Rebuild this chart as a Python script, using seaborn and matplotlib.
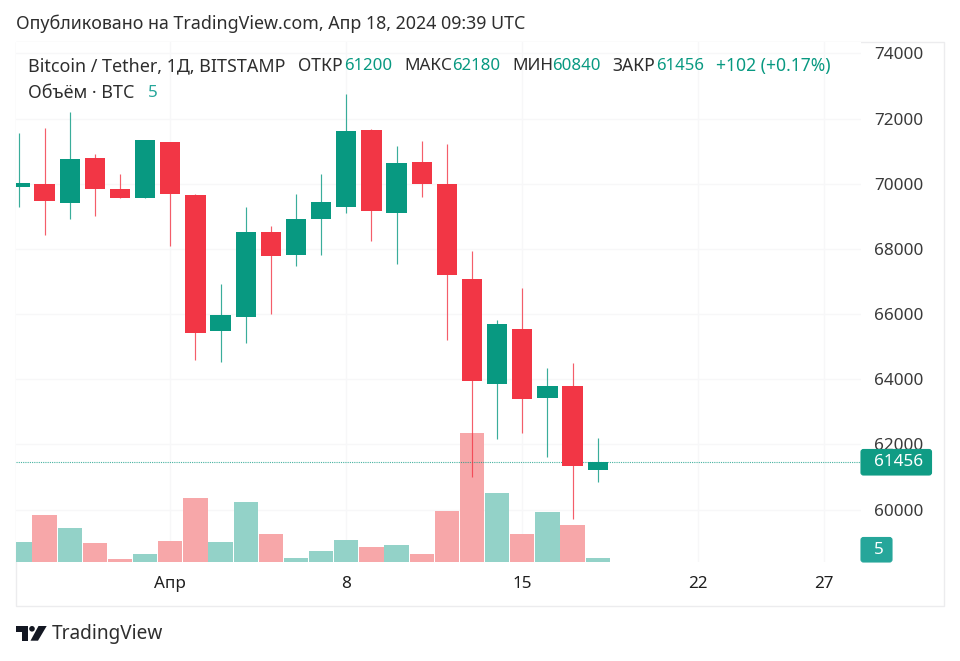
"""BTC/USDT daily candles with volume, TradingView snapshot look."""
import numpy as np
import pandas as pd

import matplotlib
matplotlib.use("Agg")
import matplotlib.pyplot as plt
from matplotlib.patches import FancyBboxPatch, Polygon, Circle, Rectangle
from matplotlib.transforms import Affine2D
import seaborn as sns

# day number, 0 = 1 Apr 2024
days = [-6, -5, -4, -3, -2, -1, 0, 1, 2, 3, 4, 5, 6, 7, 8, 9, 10, 11, 12, 13, 14, 15, 16, 17]
opens = [69897, 69990, 69407, 70797, 69846, 69560, 71270, 69652, 65488, 65908, 68507, 67802,
         68925, 69275, 71647, 69109, 70665, 69990, 67065, 63843, 65531, 63413, 63790, 61200]
highs = [71555, 71718, 72200, 70920, 70297, 71340, 71270, 69674, 66912, 69293, 68701, 69674,
         70297, 72743, 71680, 71156, 71300, 71217, 67933, 65816, 66798, 64334, 64506, 62180]
lows = [69293, 68425, 68925, 68998, 69569, 69560, 68087, 64588, 64518, 65119, 66009, 67482,
        67802, 69109, 68231, 67535, 69600, 65202, 61007, 62155, 62357, 61620, 59700, 60840]
closes = [70020, 69477, 70766, 69846, 69569, 71340, 69683, 65426, 65979, 68507, 67780, 68906,
          69447, 71616, 69152, 70625, 69981, 67188, 63944, 65693, 63392, 63790, 61326, 61456]
volumes = [26, 63.5, 46, 25, 4, 10, 27.5, 86.5, 26, 81, 38, 5,
           14.5, 29, 20.5, 23, 11, 68, 174, 93, 38, 67, 49.5, 5]

price_ticks = [60000, 62000, 64000, 66000, 68000, 70000, 72000, 74000]
day_ticks = [0, 7, 14, 21, 26]
day_labels = ["Апр", "8", "15", "22", "27"]
last_price = 61456

GREEN = "#089981"
RED = "#F23645"
VOL_GREEN = "#93D2C8"
VOL_RED = "#F7A7A9"
GRID = "#F7F7F8"
TEXT = "#2E2E2E"

W, H = 960, 661
L, R, T, B = 15.5, 860.7, 42.0, 561.7   # pane edges in pixels

sns.set_theme(style="white")
plt.rcParams["font.family"] = ["Noto Sans", "DejaVu Sans"]

df = pd.DataFrame({"day": days, "open": opens, "high": highs, "low": lows,
                   "close": closes, "volume": volumes})
df["side"] = np.where(df["close"] >= df["open"], "up", "down")

fig = plt.figure(figsize=(W / 100, H / 100), dpi=100, facecolor="white")
px = Affine2D().scale(1, -1).translate(0, H)  # top-left pixel coords
rect = [L / W, 1 - B / H, (R - L) / W, (B - T) / H]

ax_grid = fig.add_axes(rect, zorder=1)
ax_vol = fig.add_axes(rect, zorder=2)
ax = fig.add_axes(rect, zorder=3)

xlim = (-6.157, 27.46)
ylim = (58398, 74348)

# grid + ticks on the bottom pane
ax_grid.set_xlim(xlim)
ax_grid.set_ylim(ylim)
ax_grid.yaxis.tick_right()
ax_grid.set_yticks(price_ticks)
ax_grid.set_xticks(day_ticks)
ax_grid.set_xticklabels(day_labels)
ax_grid.tick_params(axis="y", length=0, pad=9.4, labelsize=12.3, labelcolor="#3A3A3A")
ax_grid.tick_params(axis="x", length=0, pad=10.5, labelsize=12.3, labelcolor="#1F1F1F")
ax_grid.get_xticklabels()[0].set_fontweight("bold")
ax_grid.grid(True, color=GRID, linewidth=1)
sns.despine(ax=ax_grid, left=True, bottom=True, right=True, top=True)

# volume
sns.barplot(data=df, x="day", y="volume", hue="side", ax=ax_vol, native_scale=True,
            palette={"up": VOL_GREEN, "down": VOL_RED}, dodge=False, width=0.97,
            saturation=1, linewidth=0, legend=False)
ax_vol.set_xlim(xlim)
ax_vol.set_ylim(0, 702)
ax_vol.axis("off")

# candles
colors = [GREEN if s == "up" else RED for s in df["side"]]
ax.vlines(df["day"], df["low"], df["high"], colors=colors, linewidth=0.85, alpha=0.8, zorder=2)
ax.bar(df["day"], (df["close"] - df["open"]).abs(), bottom=df[["open", "close"]].min(axis=1),
       width=0.81, color=colors, linewidth=0, zorder=3)
ax.axhline(last_price, color=GREEN, linewidth=0.8, linestyle=(0, (1, 1)), alpha=0.75, zorder=1)
ax.set_xlim(xlim)
ax.set_ylim(ylim)
ax.axis("off")

# outer frame
fig.add_artist(Rectangle((L, T), 944 - L, 606 - T, transform=px, fill=False,
                         edgecolor="#ECECEE", linewidth=1, zorder=0.5))

# header
fig.text(16, 24, "Опубликовано на TradingView.com, Апр 18, 2024 09:39 UTC", transform=px,
         fontsize=12.85, color=TEXT, va="center", ha="left")

# legend rows, pieces placed one after another
legend_row = [
    (28, "Bitcoin / Tether, 1Д, BITSTAMP", TEXT, 12.9), (297.7, "ОТКР", TEXT, 12.6),
    (344, "61200", GREEN, 12.1), (404.7, "МАКС", TEXT, 12.3), (452, "62180", GREEN, 12.1),
    (512.7, "МИН", TEXT, 12.3), (552, "60840", GREEN, 12.1), (612.3, "ЗАКР", TEXT, 12.6),
    (655.7, "61456", GREEN, 12.1), (716, "+102 (+0.17%)", GREEN, 12.6),
]
for x, s, c, size in legend_row:
    fig.text(x, 66, s, transform=px, fontsize=size, color=c, va="center", ha="left")
fig.text(28, 92.7, "Объём · BTC", transform=px, fontsize=12.9, color=TEXT, va="center", ha="left")
fig.text(148, 92.7, "5", transform=px, fontsize=12.3, color="#26A69A", va="center", ha="left")

# price tags on the scale
fig.add_artist(FancyBboxPatch((861, 449.5), 70.5, 25.5, boxstyle="round,pad=0,rounding_size=2.5",
                              transform=px, facecolor="#109C85", edgecolor="#109C85", linewidth=0.8, zorder=5))
fig.text(898.5, 462.5, "61456", transform=px, fontsize=12.3, color="white", fontweight="bold",
         va="center", ha="center", zorder=6)
fig.add_artist(FancyBboxPatch((861, 537.5), 31, 24.5, boxstyle="round,pad=0,rounding_size=2.5",
                              transform=px, facecolor="#26A69A", edgecolor="#26A69A", linewidth=0.8, zorder=5))
fig.text(879, 550, "5", transform=px, fontsize=12.3, color="white", fontweight="bold",
         va="center", ha="center", zorder=6)

# TradingView logo
LOGO = "#131722"
fig.add_artist(Polygon([(16, 626), (28, 626), (28, 640.7), (21.5, 640.7), (21.5, 632), (16, 632)],
                       transform=px, facecolor=LOGO, edgecolor="none", zorder=5))
fig.add_artist(Circle((32, 628.8), 2.8, transform=px, facecolor=LOGO, edgecolor="none", zorder=5))
fig.add_artist(Polygon([(38.5, 626), (46.7, 626), (38, 640.7), (30.5, 640.7)],
                       transform=px, facecolor=LOGO, edgecolor="none", zorder=5))
fig.text(52, 634, "TradingView", transform=px, fontsize=13.7, color="#2E2E2E", va="center", ha="left")

fig.savefig("out.png", dpi=100)
